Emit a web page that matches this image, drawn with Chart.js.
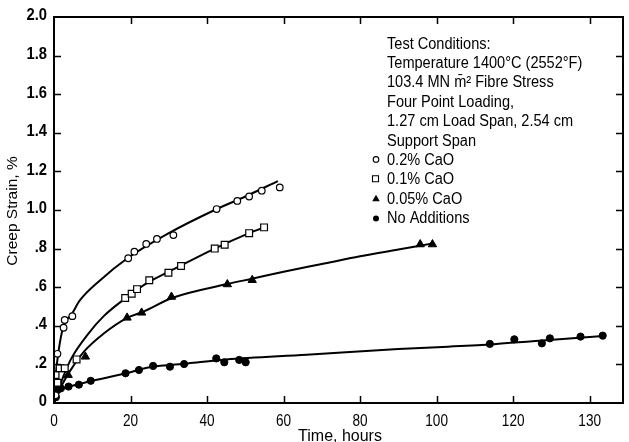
<!DOCTYPE html>
<html>
<head>
<meta charset="utf-8">
<script src="https://cdn.jsdelivr.net/npm/chart.js@4/dist/chart.umd.min.js"></script>
<style>
html,body{margin:0;padding:0;background:#fff;}
#wrap{position:relative;width:629px;height:442px;}
</style>
</head>
<body>
<div id="wrap"><canvas id="c" width="629" height="442"></canvas></div>
<script>
// ---- axis ticks ----
const xTickValues = [0, 20, 40, 60, 80, 100, 120, 140];
const xTickLabels = ['0', '20', '40', '60', '80', '100', '120', '130'];
const yTickValues = [0, 0.2, 0.4, 0.6, 0.8, 1.0, 1.2, 1.4, 1.6, 1.8, 2.0];
const yTickLabels = ['0', '.2', '.4', '.6', '.8', '1.0', '1.2', '1.4', '1.6', '1.8', '2.0'];

// ---- measured points ----
const cao02X = [0.4, 0.9, 2.5, 2.8, 4.8, 19.4, 21.0, 24.1, 26.9, 31.2, 42.5, 47.9, 51.0, 54.3, 59.0];
const cao02Y = [0.04, 0.255, 0.39, 0.43, 0.45, 0.75, 0.784, 0.824, 0.85, 0.87, 1.005, 1.047, 1.07, 1.10, 1.117];

const cao01X = [0.4, 0.9, 1.5, 2.8, 5.9, 18.6, 20.3, 21.7, 24.9, 29.9, 33.2, 42.0, 44.6, 51.0, 54.9];
const cao01Y = [0.145, 0.105, 0.18, 0.18, 0.226, 0.544, 0.566, 0.59, 0.636, 0.675, 0.71, 0.80, 0.82, 0.88, 0.91];

const cao005X = [1.5, 3.7, 8.2, 19.1, 22.9, 30.7, 45.3, 51.8, 95.7, 98.9];
const cao005Y = [0.09, 0.145, 0.24, 0.442, 0.468, 0.55, 0.615, 0.637, 0.822, 0.822];

const noAddX = [0.5, 0.9, 1.8, 3.8, 6.5, 9.6, 18.7, 22.2, 25.9, 30.3, 34.0, 42.4, 44.5, 48.4, 50.1, 113.9, 120.3, 127.5, 129.6, 137.6, 143.4];
const noAddY = [0.03, 0.067, 0.076, 0.085, 0.095, 0.115, 0.154, 0.171, 0.192, 0.188, 0.202, 0.231, 0.211, 0.223, 0.211, 0.306, 0.33, 0.309, 0.335, 0.344, 0.349];

// ---- fitted curves ----
const cao02CurveX = [0, 0.5, 1.2, 2.5, 3.5, 4.6, 6.7, 12, 19.2, 30, 42, 50, 58.5];
const cao02CurveY = [0, 0.15, 0.27, 0.40, 0.435, 0.46, 0.53, 0.635, 0.75, 0.88, 1.00, 1.07, 1.15];

const cao01CurveX = [0, 1, 2.5, 4.5, 9, 13, 18.5, 25, 30, 42, 51, 55.5];
const cao01CurveY = [0, 0.06, 0.14, 0.23, 0.36, 0.45, 0.54, 0.63, 0.68, 0.80, 0.88, 0.915];

const cao005CurveX = [0, 2, 4, 8, 13, 19, 23, 31, 45, 52, 60, 70, 80, 90, 99];
const cao005CurveY = [0, 0.09, 0.16, 0.27, 0.36, 0.44, 0.47, 0.545, 0.615, 0.645, 0.68, 0.72, 0.76, 0.795, 0.827];

const noAddCurveX = [0, 0.5, 1.5, 3, 6, 10, 19, 25, 35, 45, 66, 90, 103, 115, 125, 143.5];
const noAddCurveY = [0, 0.04, 0.065, 0.08, 0.095, 0.115, 0.155, 0.185, 0.205, 0.225, 0.25, 0.28, 0.292, 0.305, 0.32, 0.347];

// ---- text ----
const xTitle = 'Time, hours';
const yTitle = 'Creep Strain, %';
const noteLines = [
  'Test Conditions:',
  'Temperature 1400\u00B0C (2552\u00B0F)',
  '103.4 MN m\u0304\u00B2 Fibre Stress',
  'Four Point Loading,',
  '1.27 cm Load Span, 2.54 cm',
  'Support Span'
];
const seriesNames = ['0.2% CaO', '0.1% CaO', '0.05% CaO', 'No Additions'];

const FAMILY = '"Liberation Sans", Arial, sans-serif';

function pts(xs, ys) { return xs.map((x, i) => ({x: x, y: ys[i]})); }

function curve(xs, ys) {
  return {type: 'line', data: pts(xs, ys), borderColor: '#000', borderWidth: 2,
          pointRadius: 0, fill: false, cubicInterpolationMode: 'monotone', showLine: true, order: 2};
}

const markerStyles = [
  {pointStyle: 'circle', pointRadius: 3.3, backgroundColor: '#fff', borderColor: '#000', borderWidth: 1.2},
  {pointStyle: 'rect', pointRadius: 4.8, backgroundColor: '#fff', borderColor: '#000', borderWidth: 1.2},
  {pointStyle: 'triangle', pointRadius: 4.8, backgroundColor: '#000', borderColor: '#000', borderWidth: 1},
  {pointStyle: 'circle', pointRadius: 3.6, backgroundColor: '#000', borderColor: '#000', borderWidth: 1}
];

function marks(xs, ys, k) {
  return Object.assign({type: 'scatter', data: pts(xs, ys), showLine: false, order: 1, label: seriesNames[k]}, markerStyles[k]);
}

function txt(ctx, s, x, y, sx, align, baseline) {
  ctx.save();
  ctx.translate(x, y);
  ctx.scale(sx, 1);
  ctx.textAlign = align;
  ctx.textBaseline = baseline;
  ctx.fillText(s, 0, 0);
  ctx.restore();
}

const framePlugin = {
  id: 'frame',
  afterDraw(chart) {
    const ctx = chart.ctx;
    const a = chart.chartArea;
    const xs = chart.scales.x, ys = chart.scales.y;
    ctx.save();
    ctx.strokeStyle = '#000';
    ctx.fillStyle = '#000';
    ctx.lineWidth = 2;
    ctx.strokeRect(a.left, a.top, a.right - a.left, a.bottom - a.top);
    ctx.lineWidth = 1.5;
    ctx.beginPath();
    xTickValues.forEach(v => {
      if (v === 0) return;
      const px = Math.round(xs.getPixelForValue(v)) + 0.5;
      ctx.moveTo(px, a.bottom); ctx.lineTo(px, a.bottom - 7);
      ctx.moveTo(px, a.top); ctx.lineTo(px, a.top + 7);
    });
    yTickValues.forEach(v => {
      if (v === 0 || v === 2.0) return;
      const py = Math.round(ys.getPixelForValue(v)) + 0.5;
      ctx.moveTo(a.left, py); ctx.lineTo(a.left + 7, py);
      ctx.moveTo(a.right, py); ctx.lineTo(a.right - 7, py);
    });
    ctx.stroke();

    // tick labels, placed by the chart's scales
    ctx.font = '16px ' + FAMILY;
    xTickValues.forEach((v, i) => {
      txt(ctx, xTickLabels[i], xs.getPixelForValue(v), a.bottom + 19, 0.85, 'center', 'middle');
    });
    ctx.font = 'bold 16px ' + FAMILY;
    yTickValues.forEach((v, i) => {
      txt(ctx, yTickLabels[i], a.left - 7, ys.getPixelForValue(v) - 1, 0.92, 'right', 'middle');
    });

    // axis titles
    ctx.font = '16px ' + FAMILY;
    txt(ctx, xTitle, 340, 437, 1, 'center', 'middle');
    ctx.save();
    ctx.translate(13, 211);
    ctx.rotate(-Math.PI / 2);
    ctx.font = '15.5px ' + FAMILY;
    txt(ctx, yTitle, 0, 0, 1, 'center', 'middle');
    ctx.restore();

    // annotation block
    ctx.font = '16px ' + FAMILY;
    const x0 = 387, b0 = 48.5, step = 19.4, sx = 0.91;
    noteLines.forEach((t, i) => txt(ctx, t, x0, b0 + i * step, sx, 'left', 'alphabetic'));
    seriesNames.forEach((t, k) => {
      const base = b0 + (noteLines.length + k) * step;
      txt(ctx, t, x0, base, sx, 'left', 'alphabetic');
      const my = base - 5.5;
      ctx.beginPath();
      ctx.lineWidth = 1.1;
      if (k === 0) {
        ctx.arc(376, my, 2.8, 0, Math.PI * 2);
        ctx.fillStyle = '#fff'; ctx.fill(); ctx.stroke();
      } else if (k === 1) {
        ctx.rect(372.5, my - 3, 6, 6);
        ctx.fillStyle = '#fff'; ctx.fill(); ctx.stroke();
      } else if (k === 2) {
        ctx.moveTo(376, my - 3.5); ctx.lineTo(379.8, my + 3); ctx.lineTo(372.2, my + 3); ctx.closePath();
        ctx.fillStyle = '#000'; ctx.fill();
      } else {
        ctx.arc(376, my + 1, 3, 0, Math.PI * 2);
        ctx.fillStyle = '#000'; ctx.fill();
      }
      ctx.fillStyle = '#000';
    });
    ctx.restore();
  }
};

new Chart(document.getElementById('c'), {
  type: 'scatter',
  data: {
    datasets: [
      curve(cao02CurveX, cao02CurveY),
      curve(cao01CurveX, cao01CurveY),
      curve(cao005CurveX, cao005CurveY),
      curve(noAddCurveX, noAddCurveY),
      marks(cao02X, cao02Y, 0),
      marks(cao01X, cao01Y, 1),
      marks(cao005X, cao005Y, 2),
      marks(noAddX, noAddY, 3)
    ]
  },
  options: {
    responsive: false,
    animation: false,
    events: [],
    layout: {padding: {top: 17, right: 1, left: 0, bottom: 0}},
    plugins: {legend: {display: false}, tooltip: {enabled: false}},
    scales: {
      x: {
        type: 'linear', min: 0, max: 148.7,
        afterBuildTicks: s => { s.ticks = xTickValues.map(v => ({value: v})); },
        afterFit: s => { s.height = 39; },
        grid: {display: false, drawTicks: false},
        border: {display: false},
        ticks: {display: false}
      },
      y: {
        type: 'linear', min: 0, max: 2.0,
        afterBuildTicks: s => { s.ticks = yTickValues.map(v => ({value: v})); },
        afterFit: s => { s.width = 54; },
        grid: {display: false, drawTicks: false},
        border: {display: false},
        ticks: {display: false}
      }
    }
  },
  plugins: [framePlugin]
});
</script>
</body>
</html>
